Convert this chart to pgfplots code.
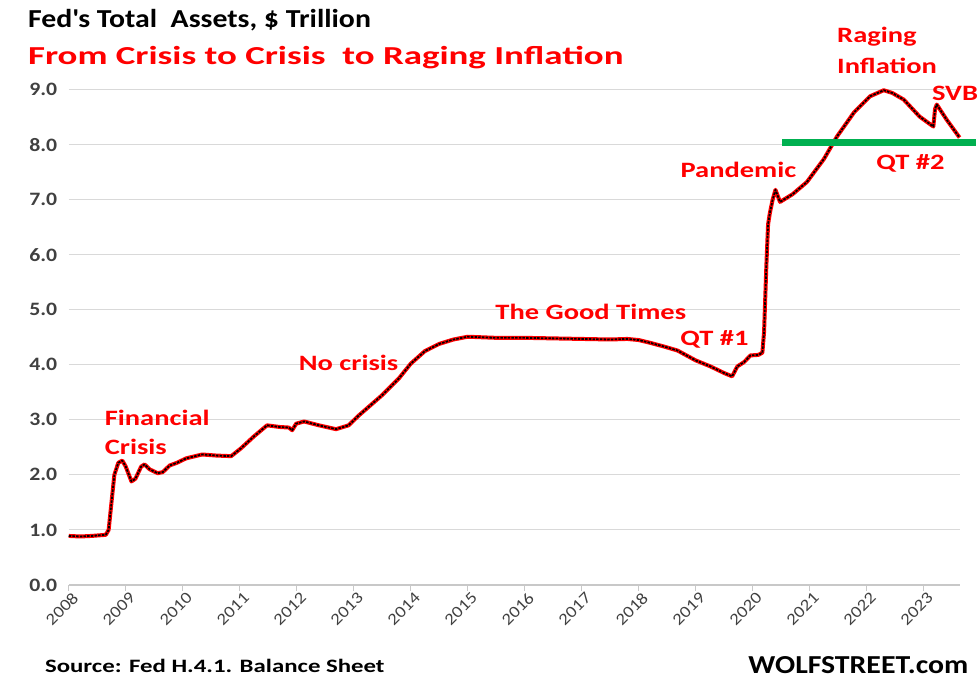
\documentclass[border=0pt]{standalone}
\usepackage{fontspec}
\setmainfont{Carlito}[FakeStretch=1.15]
\usepackage{pgfplots}
\usepackage{pgfplotstable}
\usepackage{graphicx}
\pgfplotsset{compat=1.18}
\definecolor{redtxt}{RGB}{255,0,0}
\definecolor{ticktxt}{RGB}{64,64,64}
\definecolor{gridc}{RGB}{217,217,217}
\definecolor{qtgreen}{RGB}{0,176,80}
\newcommand{\wide}[1]{\scalebox{1.13}[1]{#1}}

\pgfplotstableread{
year value
2008.00 0.89
2008.20 0.88
2008.40 0.89
2008.65 0.91
2008.70 1.00
2008.75 1.50
2008.80 2.00
2008.87 2.22
2008.94 2.26
2009.00 2.15
2009.10 1.88
2009.17 1.93
2009.27 2.15
2009.33 2.19
2009.42 2.10
2009.56 2.03
2009.65 2.05
2009.77 2.17
2009.90 2.22
2010.06 2.30
2010.34 2.37
2010.60 2.35
2010.85 2.34
2011.02 2.48
2011.25 2.70
2011.48 2.90
2011.70 2.87
2011.86 2.86
2011.92 2.81
2011.99 2.93
2012.13 2.97
2012.39 2.90
2012.69 2.83
2012.91 2.90
2013.09 3.08
2013.50 3.45
2013.79 3.75
2014.00 4.02
2014.25 4.25
2014.50 4.38
2014.75 4.46
2015.00 4.51
2015.50 4.49
2016.00 4.49
2016.50 4.48
2017.00 4.47
2017.50 4.46
2017.80 4.47
2018.00 4.45
2018.20 4.40
2018.45 4.33
2018.68 4.26
2019.00 4.08
2019.26 3.97
2019.50 3.85
2019.64 3.79
2019.73 3.97
2019.85 4.05
2019.96 4.17
2020.10 4.18
2020.17 4.22
2020.20 4.60
2020.24 5.80
2020.27 6.55
2020.30 6.75
2020.35 7.00
2020.40 7.18
2020.48 6.96
2020.70 7.10
2020.95 7.32
2021.25 7.74
2021.48 8.15
2021.78 8.59
2022.06 8.88
2022.30 8.99
2022.45 8.94
2022.65 8.82
2022.93 8.51
2023.17 8.33
2023.20 8.65
2023.23 8.73
2023.40 8.46
2023.63 8.13
}\fed

\begin{document}
\begin{tikzpicture}[x=1pt,y=1pt]
\begin{axis}[
  scale only axis, width=894pt, height=497pt,
  xmin=2008, xmax=2023.63, ymin=0, ymax=9,
  clip=false,
  axis lines*=left,
  x axis line style={draw={rgb,255:red,200;green,200;blue,200}, line width=1.2pt, -},
  y axis line style={draw=none},
  ytick={0,1,...,9},
  xtick={2008,...,2023},
  ymajorgrids, grid style={gridc, line width=1.2pt},
  ytick style={draw=none},
  xtick style={draw={rgb,255:red,200;green,200;blue,200}, line width=1.2pt},
  xtick align=outside, major tick length=6pt,
  /pgf/number format/assume math mode=true,
  yticklabel style={font=\fontsize{19}{19}\selectfont\bfseries, text=ticktxt, xshift=-8pt,
    /pgf/number format/fixed, /pgf/number format/fixed zerofill, /pgf/number format/precision=1},
  xticklabel style={font=\fontsize{16.5}{16.5}\selectfont, text=ticktxt, rotate=45, anchor=east,
    xshift=5pt, yshift=-8pt, /pgf/number format/1000 sep={}},
]
\addplot[red, line width=4pt, line join=round] table[x=year, y=value] {\fed};
\addplot[black, line width=1.8pt, line join=round, dash pattern=on 2.5pt off 1.2pt] table[x=year, y=value] {\fed};
\addplot[qtgreen, line width=7pt] coordinates {(2020.52,8.04) (2023.91,8.04)};

\tikzset{ann/.style={text=redtxt, font=\fontsize{22}{22}\selectfont\bfseries, inner sep=0pt}}
\node[ann, anchor=west] at (axis cs:2008.63,3.04) {\wide{Financial}};
\node[ann, anchor=west] at (axis cs:2008.63,2.50) {\wide{Crisis}};
\node[ann] at (axis cs:2012.91,4.04) {\wide{No crisis}};
\node[ann] at (axis cs:2017.16,4.96) {\wide{The Good Times}};
\node[ann] at (axis cs:2019.33,4.46) {\wide{QT \#1}};
\node[ann] at (axis cs:2019.75,7.55) {\wide{Pandemic}};
\node[ann, anchor=west] at (axis cs:2021.48,9.96) {\wide{Raging}};
\node[ann, anchor=west] at (axis cs:2021.48,9.44) {\wide{Inflation}};
\node[ann] at (axis cs:2023.55,8.93) {\wide{SVB}};
\node[ann] at (axis cs:2022.77,7.66) {\wide{QT \#2}};
\end{axis}
\node[anchor=west, inner sep=0pt, font=\fontsize{26}{26}\selectfont\bfseries] at (-41,567) {Fed\textquotesingle s Total\ \ Assets, \$ Trillion};
\node[anchor=west, inner sep=0pt, text=redtxt, font=\fontsize{26}{26}\selectfont\bfseries] at (-41,529) {\scalebox{1.24}[1]{From Crisis to Crisis\ \ to Raging Inflation}};
\node[anchor=west, inner sep=0pt, font=\fontsize{19}{19}\selectfont\bfseries] at (-24,-81) {\scalebox{1.14}[1]{Source: Fed H.4.1. Balance Sheet}};
\node[anchor=east, inner sep=0pt, font=\fontsize{26}{26}\selectfont\bfseries] at (903,-80) {WOLFSTREET.com};
\path[use as bounding box] (-69,-93) rectangle (910,587);
\end{tikzpicture}
\end{document}
